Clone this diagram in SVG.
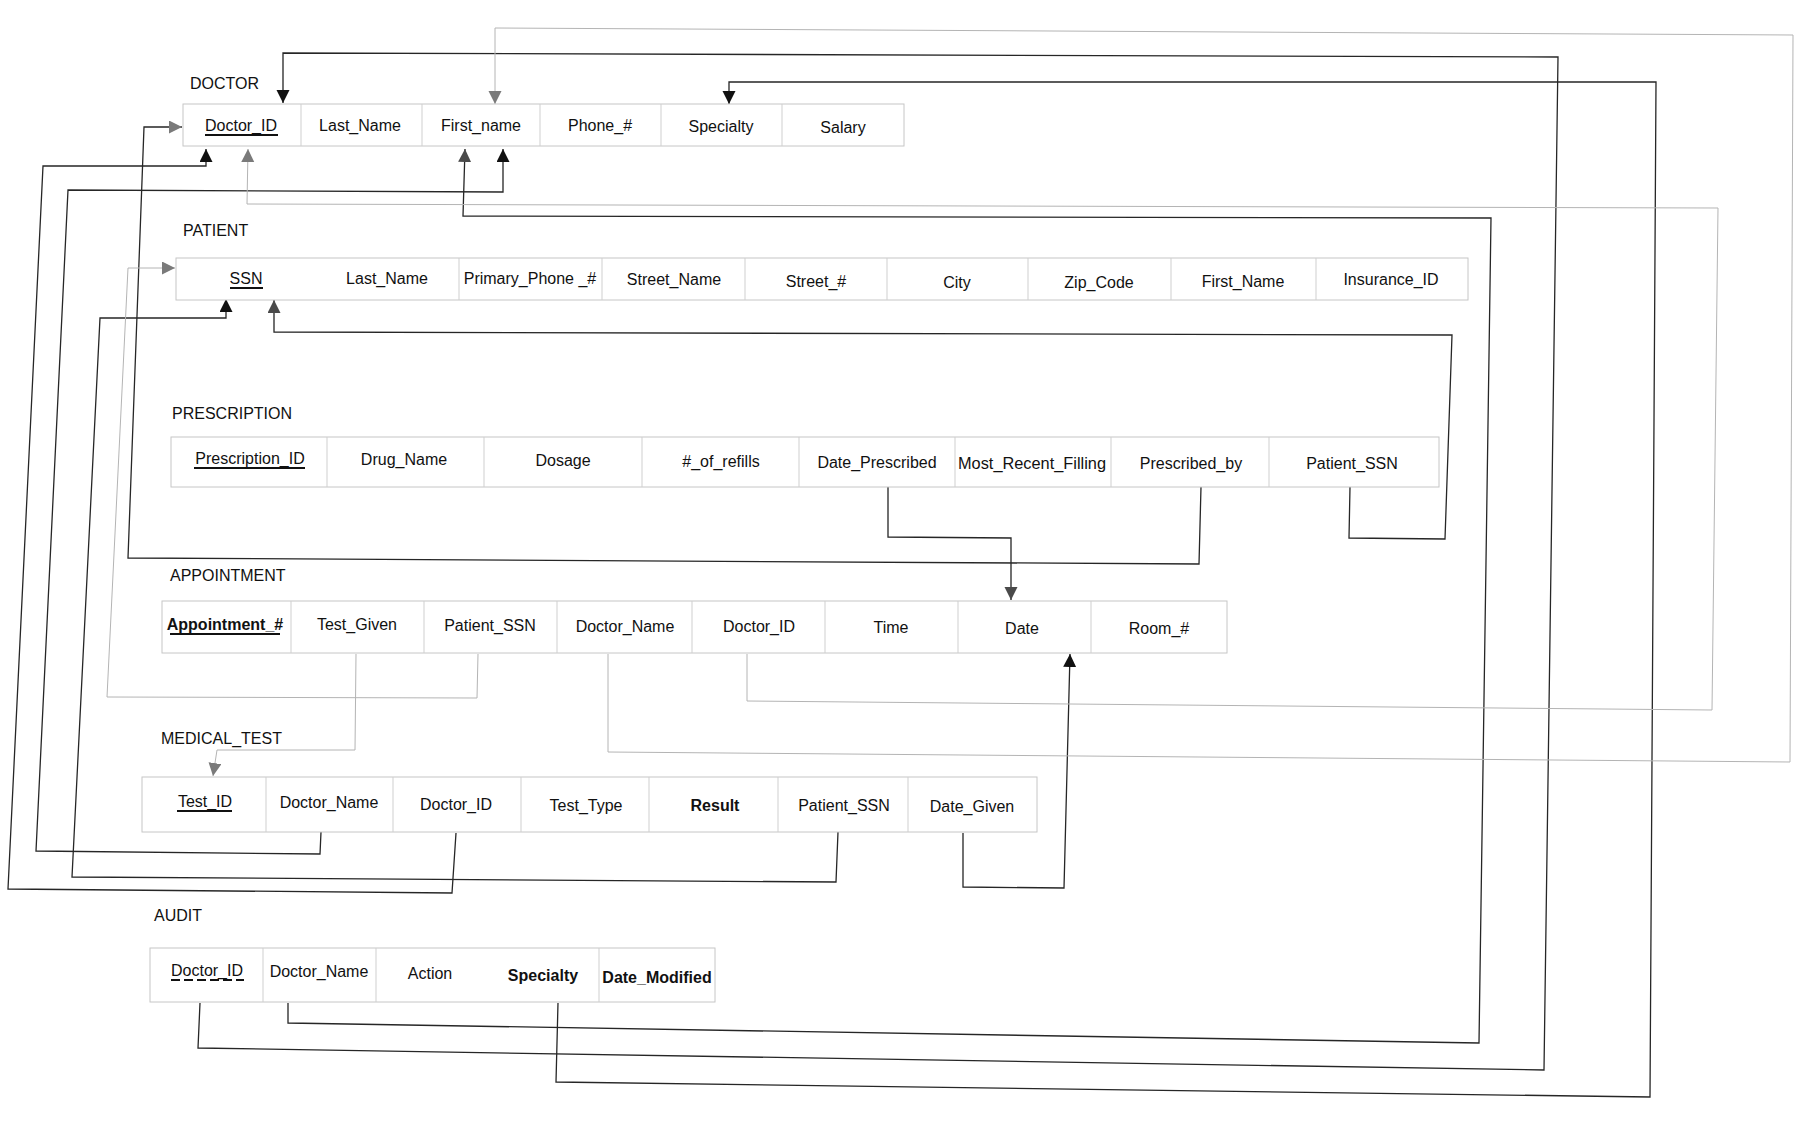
<svg xmlns="http://www.w3.org/2000/svg" width="1812" height="1136" viewBox="0 0 1812 1136">
<defs>
<style>
.lbl{font-family:"Liberation Sans",Arial,sans-serif;font-size:16px;fill:#111}
.t{font-family:"Liberation Sans",Arial,sans-serif;font-size:16px;fill:#111;text-anchor:middle}
.b{font-weight:bold}
.cell{fill:#fff;stroke:#c6c6c6;stroke-width:1}
.div{stroke:#cfcfcf;stroke-width:1}
.ul{stroke:#111;stroke-width:2}
.dk{fill:none;stroke:#262626;stroke-width:1.3}
.lt{fill:none;stroke:#b4b4b4;stroke-width:1}
</style>
<marker id="aBlack" markerUnits="userSpaceOnUse" markerWidth="14" markerHeight="14" refX="13" refY="6.5" orient="auto"><path d="M0,0 L13,6.5 L0,13 z" fill="#111"/></marker>
<marker id="aDark" markerUnits="userSpaceOnUse" markerWidth="14" markerHeight="14" refX="13" refY="6.5" orient="auto"><path d="M0,0 L13,6.5 L0,13 z" fill="#4a4a4a"/></marker>
<marker id="aGray" markerUnits="userSpaceOnUse" markerWidth="14" markerHeight="14" refX="13" refY="6.5" orient="auto"><path d="M0,0 L13,6.5 L0,13 z" fill="#7a7a7a"/></marker>
</defs>
<rect width="1812" height="1136" fill="#fff"/>

<g id="connectors">
<polyline class="dk" points="456,833 452,893 8,889 43,166 206,166 206,149" marker-end="url(#aBlack)"/>
<polyline class="dk" points="321,832 320,854 36,851 68,190 503,192 503,149" marker-end="url(#aBlack)"/>
<polyline class="dk" points="838,832 836,882 72,877 100,318 226,318 226,299" marker-end="url(#aBlack)"/>
<polyline class="dk" points="963,833 963,887 1064,888 1070,654" marker-end="url(#aBlack)"/>
<polyline class="dk" points="200,1003 198,1048 1544,1070 1558,57 283,53 283,103" marker-end="url(#aBlack)"/>
<polyline class="dk" points="288,1003 288,1023 1479,1043 1491,218 463,216 465,149" marker-end="url(#aDark)"/>
<polyline class="dk" points="558,1003 556,1082 1650,1097 1656,82 729,82 729,104" marker-end="url(#aBlack)"/>
<polyline class="dk" points="1201,487 1199,564 128,558 144,127 182,127" marker-end="url(#aGray)"/>
<polyline class="dk" points="1350,487 1349,538 1445,539 1452,335 274,332 274,300" marker-end="url(#aDark)"/>
<polyline class="dk" points="888,487 888,537 1011,538 1011,600" marker-end="url(#aDark)"/>
<polyline class="lt" points="356,654 355,750 217,750 213,776" marker-end="url(#aGray)"/>
<polyline class="lt" points="478,654 477,698 107,697 128,268 175,268" marker-end="url(#aGray)"/>
<polyline class="lt" points="608,654 608,752 1790,762 1793,35 495,28 495,104" marker-end="url(#aGray)"/>
<polyline class="lt" points="747,654 747,701 1712,710 1718,208 247,204 248,149" marker-end="url(#aGray)"/>
</g>

<g id="doctor">
<text class="lbl" x="190" y="89">DOCTOR</text>
<rect class="cell" x="183" y="104" width="721" height="42"/>
<line class="div" x1="301" y1="104" x2="301" y2="146"/>
<line class="div" x1="422" y1="104" x2="422" y2="146"/>
<line class="div" x1="540" y1="104" x2="540" y2="146"/>
<line class="div" x1="661" y1="104" x2="661" y2="146"/>
<line class="div" x1="782" y1="104" x2="782" y2="146"/>
<text class="t" x="241" y="131">Doctor_ID</text>
<line class="ul" x1="205" y1="135" x2="278" y2="135"/>
<text class="t" x="360" y="131">Last_Name</text>
<text class="t" x="481" y="131">First_name</text>
<text class="t" x="600" y="131">Phone_#</text>
<text class="t" x="721" y="132">Specialty</text>
<text class="t" x="843" y="133">Salary</text>
</g>

<g id="patient">
<text class="lbl" x="183" y="236">PATIENT</text>
<rect class="cell" x="176" y="258" width="1292" height="42"/>
<line class="div" x1="459" y1="258" x2="459" y2="300"/>
<line class="div" x1="602" y1="258" x2="602" y2="300"/>
<line class="div" x1="745" y1="258" x2="745" y2="300"/>
<line class="div" x1="887" y1="258" x2="887" y2="300"/>
<line class="div" x1="1028" y1="258" x2="1028" y2="300"/>
<line class="div" x1="1171" y1="258" x2="1171" y2="300"/>
<line class="div" x1="1316" y1="258" x2="1316" y2="300"/>
<text class="t" x="246" y="284">SSN</text>
<line class="ul" x1="230" y1="288" x2="263" y2="288"/>
<text class="t" x="387" y="284">Last_Name</text>
<text class="t" x="530" y="284">Primary_Phone _#</text>
<text class="t" x="674" y="285">Street_Name</text>
<text class="t" x="816" y="287">Street_#</text>
<text class="t" x="957" y="288">City</text>
<text class="t" x="1099" y="288">Zip_Code</text>
<text class="t" x="1243" y="287">First_Name</text>
<text class="t" x="1391" y="285">Insurance_ID</text>
</g>

<g id="prescription">
<text class="lbl" x="172" y="419">PRESCRIPTION</text>
<rect class="cell" x="171" y="437" width="1268" height="50"/>
<line class="div" x1="327" y1="437" x2="327" y2="487"/>
<line class="div" x1="484" y1="437" x2="484" y2="487"/>
<line class="div" x1="642" y1="437" x2="642" y2="487"/>
<line class="div" x1="799" y1="437" x2="799" y2="487"/>
<line class="div" x1="955" y1="437" x2="955" y2="487"/>
<line class="div" x1="1111" y1="437" x2="1111" y2="487"/>
<line class="div" x1="1269" y1="437" x2="1269" y2="487"/>
<text class="t" x="250" y="464">Prescription_ID</text>
<line class="ul" x1="194" y1="468" x2="305" y2="468"/>
<text class="t" x="404" y="465">Drug_Name</text>
<text class="t" x="563" y="466">Dosage</text>
<text class="t" x="721" y="467">#_of_refills</text>
<text class="t" x="877" y="468">Date_Prescribed</text>
<text class="t" x="1032" y="469" textLength="148" lengthAdjust="spacingAndGlyphs">Most_Recent_Filling</text>
<text class="t" x="1191" y="469">Prescribed_by</text>
<text class="t" x="1352" y="469">Patient_SSN</text>
</g>

<g id="appointment">
<text class="lbl" x="170" y="581">APPOINTMENT</text>
<rect class="cell" x="162" y="601" width="1065" height="52"/>
<line class="div" x1="291" y1="601" x2="291" y2="653"/>
<line class="div" x1="424" y1="601" x2="424" y2="653"/>
<line class="div" x1="557" y1="601" x2="557" y2="653"/>
<line class="div" x1="692" y1="601" x2="692" y2="653"/>
<line class="div" x1="825" y1="601" x2="825" y2="653"/>
<line class="div" x1="958" y1="601" x2="958" y2="653"/>
<line class="div" x1="1091" y1="601" x2="1091" y2="653"/>
<text class="t b" x="225" y="630">Appointment_#</text>
<line class="ul" x1="170" y1="634" x2="280" y2="634"/>
<text class="t" x="357" y="630">Test_Given</text>
<text class="t" x="490" y="631">Patient_SSN</text>
<text class="t" x="625" y="632">Doctor_Name</text>
<text class="t" x="759" y="632">Doctor_ID</text>
<text class="t" x="891" y="633">Time</text>
<text class="t" x="1022" y="634">Date</text>
<text class="t" x="1159" y="634">Room_#</text>
</g>

<g id="medical_test">
<text class="lbl" x="161" y="744">MEDICAL_TEST</text>
<rect class="cell" x="142" y="777" width="895" height="55"/>
<line class="div" x1="266" y1="777" x2="266" y2="832"/>
<line class="div" x1="393" y1="777" x2="393" y2="832"/>
<line class="div" x1="521" y1="777" x2="521" y2="832"/>
<line class="div" x1="649" y1="777" x2="649" y2="832"/>
<line class="div" x1="778" y1="777" x2="778" y2="832"/>
<line class="div" x1="908" y1="777" x2="908" y2="832"/>
<text class="t" x="205" y="807">Test_ID</text>
<line class="ul" x1="177" y1="811" x2="232" y2="811"/>
<text class="t" x="329" y="808">Doctor_Name</text>
<text class="t" x="456" y="810">Doctor_ID</text>
<text class="t" x="586" y="811">Test_Type</text>
<text class="t b" x="715" y="811">Result</text>
<text class="t" x="844" y="811">Patient_SSN</text>
<text class="t" x="972" y="812">Date_Given</text>
</g>

<g id="audit">
<text class="lbl" x="154" y="921">AUDIT</text>
<rect class="cell" x="150" y="948" width="565" height="54"/>
<line class="div" x1="263" y1="948" x2="263" y2="1002"/>
<line class="div" x1="376" y1="948" x2="376" y2="1002"/>
<line class="div" x1="599" y1="948" x2="599" y2="1002"/>
<text class="t" x="207" y="976">Doctor_ID</text>
<line class="ul" x1="171" y1="980" x2="244" y2="980" stroke-dasharray="9 4"/>
<text class="t" x="319" y="977">Doctor_Name</text>
<text class="t" x="430" y="979">Action</text>
<text class="t b" x="543" y="981">Specialty</text>
<text class="t b" x="657" y="983">Date_Modified</text>
</g>
</svg>
